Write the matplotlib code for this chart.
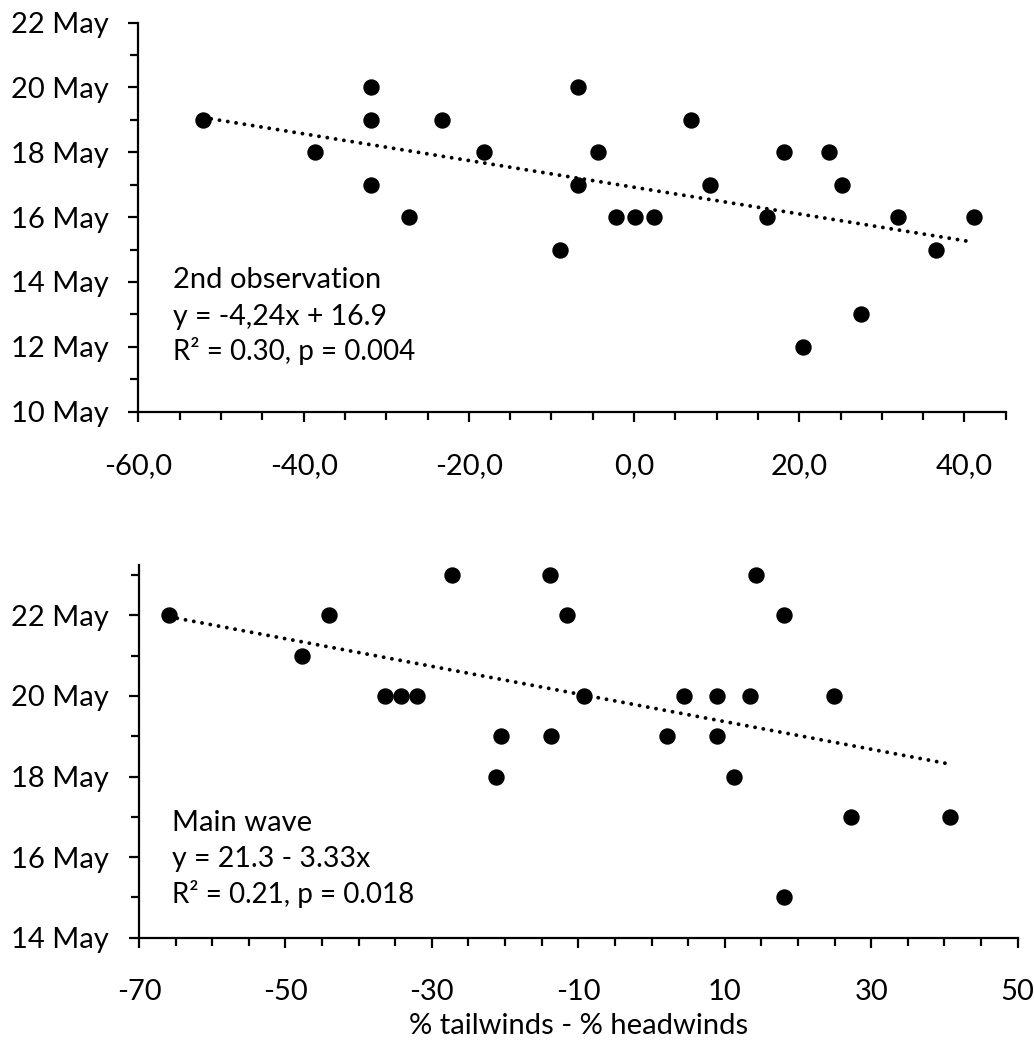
import numpy as np
import matplotlib
matplotlib.use("Agg")
import matplotlib.pyplot as plt
from matplotlib.ticker import FixedLocator, FuncFormatter, MultipleLocator

plt.rcParams['font.family'] = ['Lato', 'DejaVu Sans']

# 2nd observation (top panel): wind index vs. date in May
obs_x = [-52.2, -38.6, -31.8, -31.8, -31.8, -27.2, -23.3, -18.2,
         -6.75, -9.0, -4.4, -6.75, -2.2, 0.1, 2.4, 6.9, 9.2,
         16.1, 18.2, 20.5, 23.6, 25.2, 27.5, 32.0, 36.6, 41.1]
obs_day = [19, 18, 20, 19, 17, 16, 19, 18,
           20, 15, 18, 17, 16, 16, 16, 19, 17,
           16, 18, 12, 18, 17, 13, 16, 15, 16]

# main wave (bottom panel)
main_x = [-65.9, -47.8, -44.0, -36.4, -34.2, -32.0, -27.3, -20.6, -21.3,
          -13.85, -11.5, -13.75, -9.2, 2.1, 4.4, 9.0, 9.0, 11.2,
          13.5, 14.2, 18.1, 18.05, 24.9, 27.2, 40.8]
main_day = [22, 21, 22, 20, 20, 20, 23, 19, 18,
            23, 22, 19, 20, 19, 20, 20, 19, 18,
            20, 23, 22, 15, 20, 17, 17]

top_xticks = [-60, -40, -20, 0, 20, 40]
bot_xticks = [-70, -50, -30, -10, 10, 30, 50]

top_text = ["2nd observation", "y = -4,24x + 16.9", "R² = 0.30, p = 0.004"]
bot_text = ["Main wave", "y = 21.3 - 3.33x", "R² = 0.21, p = 0.018"]

fig = plt.figure(figsize=(10.34, 10.43), dpi=100)
ax1 = fig.add_axes([0.1339, 0.6053, 0.8388, 0.3730])
ax2 = fig.add_axes([0.1344, 0.1010, 0.8498, 0.3573])

lw_axis = 1.6
fs_tick = 21


def style(ax):
    for s in ['top', 'right']:
        ax.spines[s].set_visible(False)
    for s in ['left', 'bottom']:
        ax.spines[s].set_linewidth(lw_axis)
    ax.tick_params(which='major', length=7.5, width=lw_axis, labelsize=fs_tick)
    ax.tick_params(which='minor', length=5.5, width=lw_axis)
    ax.tick_params(axis='y', which='major', pad=14)
    ax.tick_params(axis='x', which='major', pad=22)
    ax.yaxis.set_major_formatter(FuncFormatter(lambda v, p: f"{int(round(v))} May"))


def scatter_trend(ax, x, y):
    x = np.array(x)
    y = np.array(y)
    ax.plot(x, y, 'o', color='black', ms=10.8, zorder=3, clip_on=False)
    k, b = np.polyfit(x, y, 1)
    xs = np.array([x.min(), x.max()])
    ax.plot(xs, k * xs + b, color='black', lw=2.8, zorder=4,
            linestyle=(0, (0.01, 2.15)), dash_capstyle='round')


# top panel
scatter_trend(ax1, obs_x, obs_day)
style(ax1)
ax1.set_xlim(-60, 45)
ax1.set_ylim(10, 22)
ax1.xaxis.set_major_locator(FixedLocator(top_xticks))
ax1.xaxis.set_minor_locator(MultipleLocator(5))
ax1.xaxis.set_major_formatter(FuncFormatter(lambda v, p: f"{v:.1f}".replace('.', ',').replace('-0,0', '0,0')))
ax1.yaxis.set_major_locator(MultipleLocator(2))
ax1.yaxis.set_minor_locator(MultipleLocator(1))

# bottom panel
scatter_trend(ax2, main_x, main_day)
style(ax2)
ax2.set_xlim(-70, 50)
ax2.set_ylim(14, 23.25)
ax2.xaxis.set_major_locator(FixedLocator(bot_xticks))
ax2.xaxis.set_minor_locator(MultipleLocator(5))
ax2.xaxis.set_major_formatter(FuncFormatter(lambda v, p: f"{int(round(v))}"))
ax2.yaxis.set_major_locator(FixedLocator([14, 16, 18, 20, 22]))
ax2.yaxis.set_minor_locator(MultipleLocator(1))
ax2.set_xlabel("% tailwinds - % headwinds", fontsize=fs_tick, labelpad=6)

# annotations
fig.text(0.167, 0.7236, top_text[0], fontsize=21, va='baseline')
fig.text(0.167, 0.6884, top_text[1], fontsize=20.5, va='baseline')
fig.text(0.167, 0.6548, top_text[2], fontsize=20, va='baseline')
fig.text(0.166, 0.2035, bot_text[0], fontsize=21, va='baseline')
fig.text(0.166, 0.1690, bot_text[1], fontsize=20.5, va='baseline')
fig.text(0.166, 0.1345, bot_text[2], fontsize=20, va='baseline')

fig.savefig("out.png", dpi=100)
